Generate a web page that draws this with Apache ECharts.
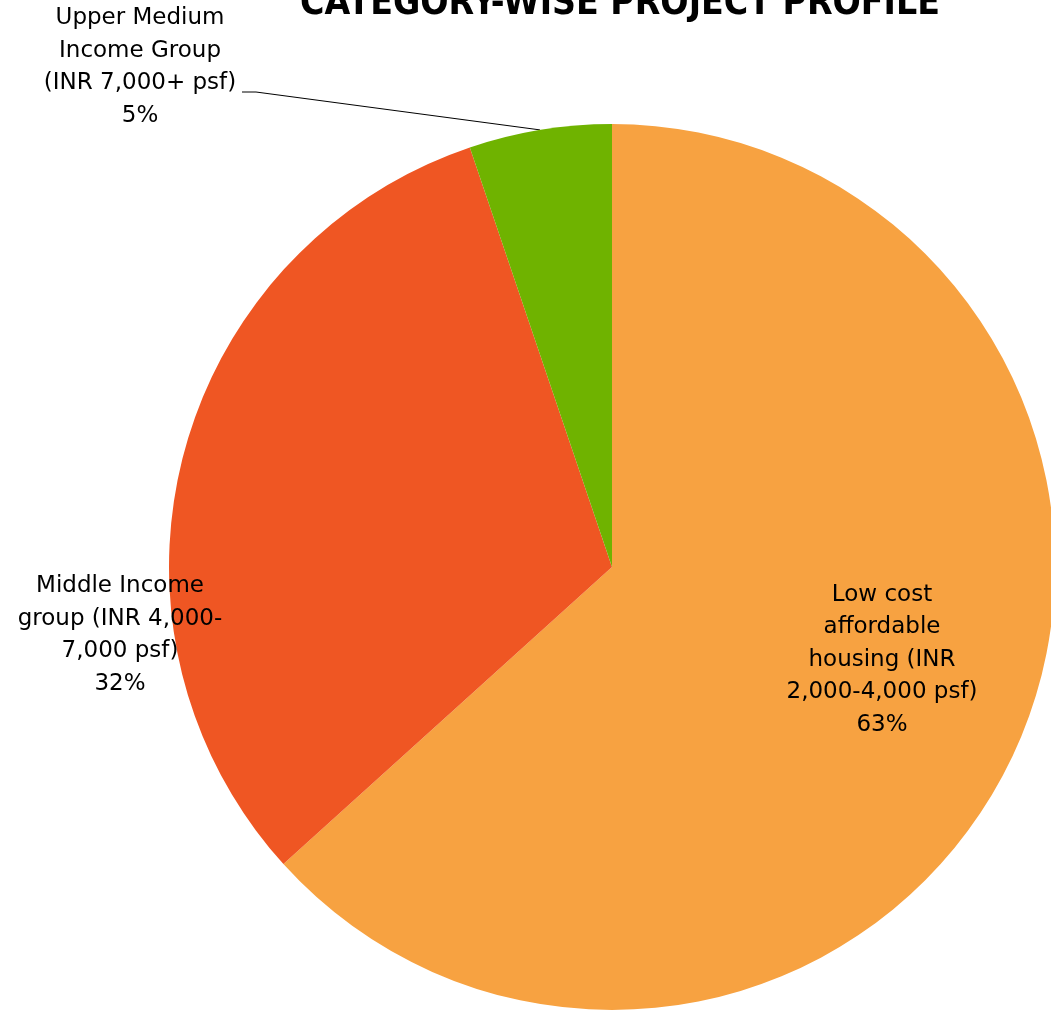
<!DOCTYPE html>
<html><head><meta charset="utf-8">
<script src="https://cdn.jsdelivr.net/npm/echarts@6/dist/echarts.min.js"></script>
<style>html,body{margin:0;padding:0;background:#fff}#c{width:1051px;height:1010px}</style>
</head><body><div id="c"></div>
<script>
const categories = [
  "Low cost\naffordable\nhousing (INR\n2,000-4,000 psf)",
  "Middle Income\ngroup (INR 4,000-\n7,000 psf)",
  "Upper Medium\nIncome Group\n(INR 7,000+ psf)"
];
const values = [63.3, 31.5, 5.2];
const colors = ["#F7A241", "#EF5623", "#6FB300"];
const labelPos = [[882, 660], [120, 635], [140, 67]];

const chart = echarts.init(document.getElementById('c'));
const total = values.reduce((a, b) => a + b, 0);
chart.setOption({
  animation: false,
  title: {
    text: 'CATEGORY-WISE PROJECT PROFILE',
    left: 615, textAlign: 'center', top: -19,
    textStyle: { fontFamily: 'DejaVu Sans Condensed', fontWeight: 'bold', fontSize: 37, color: '#000' }
  },
  series: [{
    type: 'pie',
    center: [612, 567],
    radius: 443,
    startAngle: 90,
    clockwise: true,
    avoidLabelOverlap: false,
    data: categories.map((c, i) => ({
      name: c, value: values[i],
      itemStyle: { color: colors[i] },
      labelLine: { show: i === 2 }
    })),
    label: {
      show: true,
      position: 'outside',
      formatter: p => p.name + '\n' + Math.round(p.value / total * 100) + '%',
      fontFamily: 'DejaVu Sans',
      fontSize: 23,
      lineHeight: 32.5,
      color: '#000',
      align: 'center',
      overflow: 'none'
    },
    labelLine: { show: true, length: 10, length2: 10, lineStyle: { color: '#000', width: 1 } },
    labelLayout: p => {
      const out = {
        x: labelPos[p.dataIndex][0],
        y: labelPos[p.dataIndex][1],
        align: 'center',
        verticalAlign: 'middle',
        hideOverlap: false
      };
      if (p.dataIndex === 2 && p.labelLinePoints) {
        const start = p.labelLinePoints[0];
        out.labelLinePoints = [start, [256, 92], [242, 92]];
      }
      return out;
    }
  }]
});
</script></body></html>
